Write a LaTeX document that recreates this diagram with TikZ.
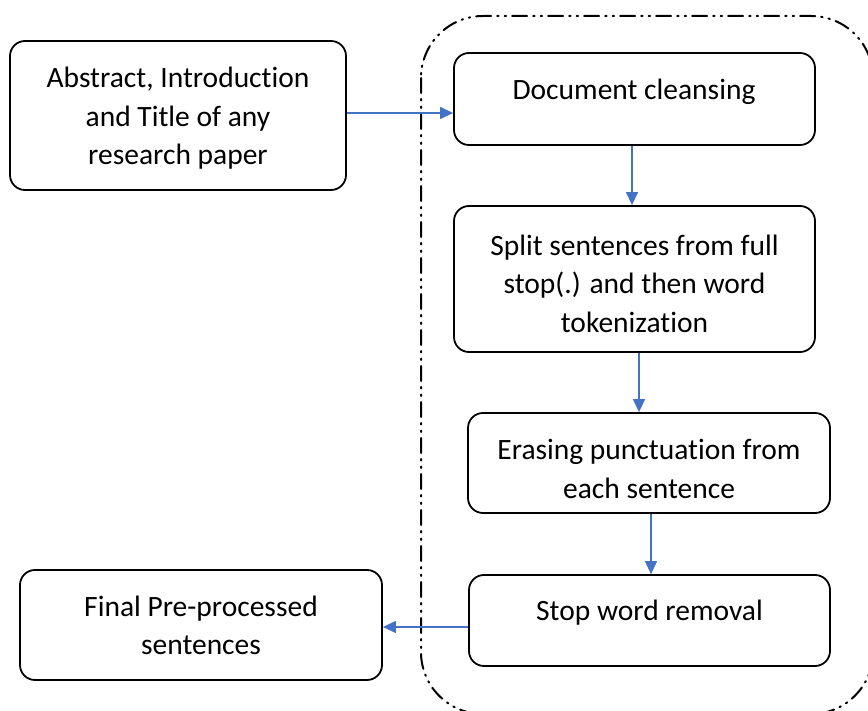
\documentclass[tikz,border=0pt]{standalone}
\usepackage{fontspec}
\setmainfont{Carlito}[Ligatures=NoCommon]
\usetikzlibrary{arrows.meta}
\definecolor{flowblue}{HTML}{4472C4}
\tikzset{
  procbox/.style={draw=black, line width=1.8pt, rounded corners=15pt, inner sep=0pt},
  boxtext/.style={inner sep=0pt, align=center, font=\fontsize{29.5pt}{38.5pt}\selectfont},
  flowarrow/.style={draw=flowblue, line width=1.3pt, -{Triangle[length=13pt,width=12pt]}},
  stagefrm/.style={line width=2pt, line cap=round, dash pattern=on 15pt off 6pt on 1.5pt off 6pt on 1.5pt off 6pt, rounded corners=62pt}
}
\begin{document}
\begin{tikzpicture}[x=1pt,y=-1pt]
\useasboundingbox (0,0) rectangle (868,711);
\clip (0,0) rectangle (868,711);
\fill[white] (0,0) rectangle (868,711);

% processing stage frame
\draw[stagefrm] (421,16) rectangle (873,714);

% boxes
\node[procbox, minimum width=336pt, minimum height=149pt] (b1) at (178,115.5) {};
\node[procbox, minimum width=361pt, minimum height=92pt] (b2) at (634.5,99) {};
\node[procbox, minimum width=361pt, minimum height=146pt] (b3) at (634.5,279) {};
\node[procbox, minimum width=362pt, minimum height=100pt] (b4) at (649,463) {};
\node[procbox, minimum width=361pt, minimum height=91pt] (b5) at (649.5,620.5) {};
\node[procbox, minimum width=362pt, minimum height=110pt] (b6) at (201,625) {};

% labels
\node[boxtext] (t1) at (178,118.5) {Abstract, Introduction\\and Title of any\\research paper};
\node[boxtext] (t2) at (634,91.5) {Document cleansing};
\node[boxtext] (t3) at (634.5,283.5) {Split sentences from full\\stop(.) and then word\\tokenization};
\node[boxtext] (t4) at (649,469) {Erasing punctuation from\\each sentence};
\node[boxtext] (t5) at (649.5,612.5) {Stop word removal};
\node[boxtext] (t6) at (201,625.5) {Final Pre-processed\\sentences};

% connector guides
\coordinate (h1) at (0,113);
\coordinate (h5) at (0,627);
\coordinate (v2) at (632,0);
\coordinate (v3) at (639,0);
\coordinate (v4) at (651,0);

% connectors
\draw[flowarrow] (b1.east |- h1) -- (b2.west |- h1);
\draw[flowarrow] (b2.south -| v2) -- (b3.north -| v2);
\draw[flowarrow] (b3.south -| v3) -- (b4.north -| v3);
\draw[flowarrow] (b4.south -| v4) -- (b5.north -| v4);
\draw[flowarrow] (b5.west |- h5) -- (b6.east |- h5);
\end{tikzpicture}
\end{document}
